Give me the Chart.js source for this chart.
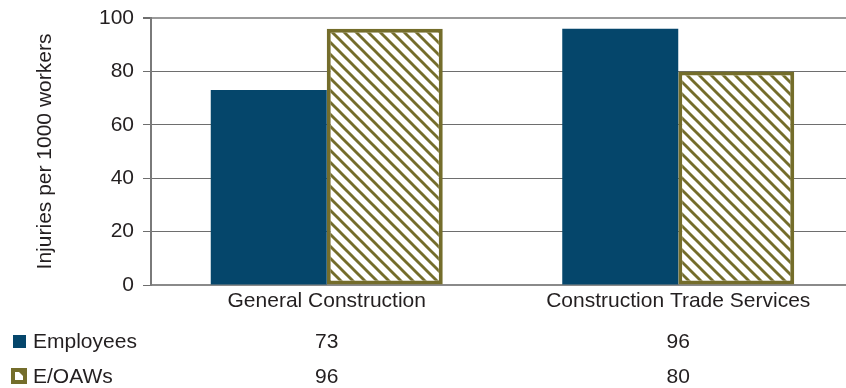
<!DOCTYPE html>
<html>
<head>
<meta charset="utf-8">
<script src="https://cdn.jsdelivr.net/npm/chart.js@4/dist/chart.umd.min.js"></script>
<style>
  html, body { margin: 0; padding: 0; background: #fff; overflow: hidden; }
  #wrap { width: 860px; height: 388px; }
</style>
</head>
<body>
<div id="wrap"><canvas id="c" width="860" height="388"></canvas></div>
<script>
// Injury rates by sector
const categories = ['General Construction', 'Construction Trade Services'];
const employees = [73, 96];
const eoaws = [96, 80];
const seriesNames = ['Employees', 'E/OAWs'];
const yTicks = [0, 20, 40, 60, 80, 100];
const yTitle = 'Injuries per 1000 workers';

const NAVY = '#05466b';
const OLIVE = '#746d2b';
const TEXT = '#231f20';
const FONT = 'Liberation Sans, Arial, Helvetica, sans-serif';

// Diagonal hatch fill: olive stripes on white
function makeHatch() {
  const s = 12;
  const t = document.createElement('canvas');
  t.width = s; t.height = s;
  const g = t.getContext('2d');
  g.fillStyle = '#fff';
  g.fillRect(0, 0, s, s);
  g.strokeStyle = OLIVE;
  g.lineWidth = 2.9;
  for (const x0 of [-s, 0, s]) {
    g.beginPath();
    g.moveTo(x0 - 2, -2);
    g.lineTo(x0 + s + 2, s + 2);
    g.stroke();
  }
  return g.createPattern(t, 'repeat');
}
const hatch = makeHatch();

// Data table with legend keys under the category axis
const tablePlugin = {
  id: 'dataTable',
  afterDraw(chart) {
    const ctx = chart.ctx;
    const x = chart.scales.x;
    const rows = [
      { name: seriesNames[0], vals: employees, y: 342 },
      { name: seriesNames[1], vals: eoaws, y: 377 }
    ];
    ctx.save();
    ctx.font = '21px ' + FONT;
    ctx.fillStyle = TEXT;
    ctx.textBaseline = 'middle';
    rows.forEach((r, ri) => {
      ctx.textAlign = 'left';
      ctx.fillStyle = TEXT;
      ctx.fillText(r.name, 33, r.y);
      ctx.textAlign = 'center';
      r.vals.forEach((v, i) => {
        ctx.fillText(String(v), x.getPixelForValue(i), r.y);
      });
      // legend key
      if (ri === 0) {
        ctx.fillStyle = NAVY;
        ctx.fillRect(13, r.y - 7, 13, 13);
      } else {
        ctx.fillStyle = OLIVE;
        ctx.fillRect(11, r.y - 9, 16, 16);
        ctx.fillStyle = '#fff';
        ctx.beginPath();
        ctx.moveTo(15, r.y - 5);
        ctx.lineTo(19, r.y - 5);
        ctx.lineTo(23, r.y - 1);
        ctx.lineTo(23, r.y + 3);
        ctx.lineTo(15, r.y + 3);
        ctx.closePath();
        ctx.fill();
      }
    });
    ctx.restore();
  }
};

new Chart(document.getElementById('c'), {
  type: 'bar',
  data: {
    labels: categories,
    datasets: [
      {
        label: seriesNames[0],
        data: employees,
        backgroundColor: NAVY,
        borderWidth: 0
      },
      {
        label: seriesNames[1],
        data: eoaws,
        backgroundColor: hatch,
        borderColor: OLIVE,
        borderWidth: 4,
        borderSkipped: false
      }
    ]
  },
  options: {
    responsive: false,
    animation: false,
    events: [],
    layout: { padding: { left: 0, right: 6, top: 18, bottom: 73 } },
    datasets: { bar: { categoryPercentage: 0.66, barPercentage: 1 } },
    plugins: { legend: { display: false }, tooltip: { enabled: false } },
    scales: {
      x: {
        grid: { display: true, drawOnChartArea: false, drawTicks: false },
        border: { display: true, color: '#8a8a8a', width: 2 },
        ticks: { color: TEXT, font: { family: FONT, size: 21 }, padding: 4, maxRotation: 0 },
        afterFit(s) { s.height = 30; s.paddingLeft = 0; s.paddingRight = 0; }
      },
      y: {
        min: 0,
        max: 100,
        afterBuildTicks(s) { s.ticks = yTicks.map(v => ({ value: v })); },
        grid: {
          color: c => (c.tick && c.tick.value === 100) ? '#9a9a9a' : '#6e6e6e',
          lineWidth: c => (c.tick && c.tick.value === 100) ? 2 : 1,
          tickColor: '#6e6e6e',
          tickLength: 8,
          drawTicks: true
        },
        border: { display: true, color: '#7a7a7a', width: 2 },
        ticks: { color: TEXT, font: { family: FONT, size: 21 }, padding: 9 },
        title: {
          display: true,
          text: yTitle,
          color: TEXT,
          font: { family: FONT, size: 21 },
          padding: { top: 33, bottom: 0 }
        },
        afterFit(s) { s.width = 151; s.paddingTop = 0; s.paddingBottom = 0; }
      }
    }
  },
  plugins: [tablePlugin]
});
</script>
</body>
</html>
